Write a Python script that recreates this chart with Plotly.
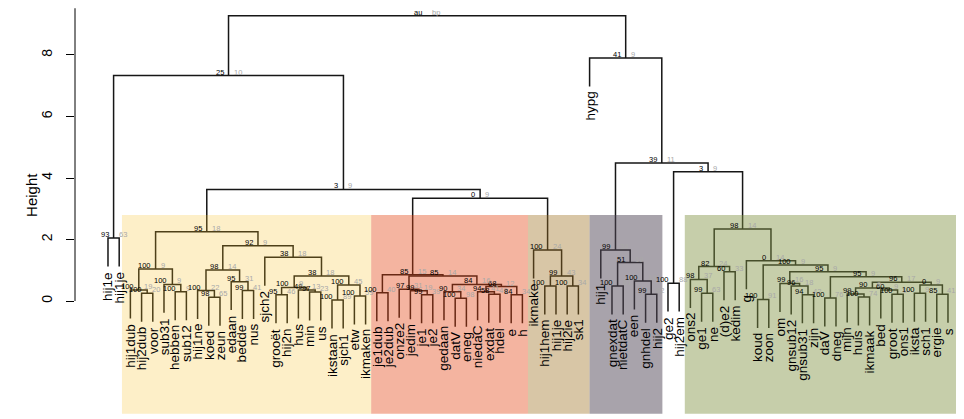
import plotly.graph_objects as go

# ---------------- data ----------------
leaf_labels = ["hij1e", "hij1je", "hij1dub", "hij2dub", "voor", "sub31", "hebben", "sub12",
               "hij1ne", "koed", "zeun", "edaan", "bedde", "nus", "sjch2", "grooët", "hij2n",
               "hus", "min", "us", "ikstaan", "sjch1", "etw", "ikmaken", "je1dub", "je2dub",
               "onze2", "jedim", "je1", "je2", "gedaan", "datV", "eneg", "niedaC", "exdat",
               "hdel", "e", "h", "ikmake", "hij1hem", "hij1je", "hij2ie", "sk1", "hypg", "hij1",
               "gnexdat", "nietdatC", "een", "gnhdel", "hij2", "ge2", "hij2em", "ons2", "ge1",
               "ne", "(d)e2", "kedim", "g", "koud", "zoon", "om", "gnsub12", "gnsub31", "zijn",
               "daV", "dneg", "mijn", "huis", "ikmaak", "bed", "groot", "ons1", "iksta", "sch1",
               "ergie", "s"]

# hclust-style merges: negative = leaf (1-based position), positive = earlier merge row
merge_left = [-4, -3, -7, -6, -1, 2, -10, -9, -13, -12, 8, -16, -19, -18, 12, -21, -23, 16, 15,
              -15, 11, 6, -25, -29, -28, -27, -32, -31, -35, -34, -37, 30, 28, 26, 23, -40, -42,
              36, -39, 35, 22, 5, -46, -49, -48, 43, -45, -51, -54, -53, -56, 50, -59, -63, -62,
              -61, -65, -68, -67, -71, -70, 59, -73, -75, 63, 62, 57, 56, 53, -58, 52, 48, 47,
              -44, 42]
merge_right = [-5, 1, -8, 3, -2, 4, -11, 7, -14, 9, 10, -17, -20, 13, 14, -22, -24, 17, 18, 19,
               20, 21, -26, -30, 24, 25, -33, 27, -36, 29, -38, 31, 32, 33, 34, -41, -43, 37, 38,
               39, 40, 41, -47, -50, 44, 45, 46, -52, -55, 49, -57, 51, -60, -64, 54, 55, -66,
               -69, 58, -72, 60, 61, -74, -76, 64, 65, 66, 67, 68, 69, 70, 71, 72, 73, 74]
merge_height = [0.25, 0.36, 0.30, 0.54, 2.05, 1.04, 0.12, 0.34, 0.34, 0.63, 1.01, 0.20, 0.29,
                0.36, 0.44, 0.03, 0.16, 0.52, 0.81, 1.42, 1.80, 2.25,
                0.27, 0.20, 0.33, 0.38, 0.09, 0.30, 0.22, 0.30, 0.20, 0.47, 0.54, 0.81, 0.85,
                0.49, 0.49, 0.81, 1.66, 3.34, 3.63, 7.33,
                0.49, 0.22, 0.65, 1.25, 1.66, 0.58,
                0.25, 0.70, 0.95, 1.12, 0.05, 0.20, 0.49, 0.57, 0.10, 0.13, 0.23, 0.22, 0.36,
                0.42, 0.25, 0.22, 0.52, 0.61, 0.79, 0.95, 1.17, 1.31, 2.34, 4.20, 4.49, 7.90,
                9.28]
au_values = ["100", "100", "100", "100", "93", "100", "98", "100", "99", "95", "98", "95", "97",
             "49", "100", "100", "100", "100", "38", "38", "92", "95",
             "100", "99", "99", "97", "100", "90", "58", "94", "84", "68", "84", "85", "85",
             "100", "100", "99", "100", "0", "3", "25",
             "100", "99", "100", "51", "99", "100",
             "99", "98", "60", "82", "100", "94", "96", "99", "100", "100", "99", "100", "60",
             "90", "100", "85", "0", "96", "95", "95", "100", "0", "98", "3", "39", "41", "au"]
bp_values = ["20", "19", "9", "9", "63", "9", "65", "22", "41", "31", "14", "46", "23", "13", "9",
             "89", "59", "45", "18", "18", "9", "18",
             "40", "39", "19", "31", "98", "34", "46", "41", "34", "12", "16", "14", "15",
             "", "34", "43", "24", "9", "9", "10",
             "81", "82", "19", "19", "34", "88",
             "63", "37", "33", "24", "91", "42", "18", "16", "76", "74", "", "9", "9", "9", "9",
             "41", "9", "17", "9", "9", "9", "14", "14", "9", "11", "9", "bp"]

y_ticks = [0, 2, 4, 6, 8]

# highlighted groups (1-based leaf positions)
group_from = [3, 25, 39, 44, 53]
group_to = [24, 38, 44, 50, 76]
group_colors = ["rgba(247,191,35,0.25)", "rgba(228,68,18,0.40)", "rgba(157,112,32,0.40)",
                "rgba(81,71,87,0.50)", "rgba(128,146,66,0.45)"]

# ---------------- styles ----------------
FONT = "Liberation Sans, Arial, Helvetica, sans-serif"
pad_left = [0.75, 0.5, 0.5, 0.0, 0.5]
pad_right = [0.5, 0.5, 0.0, 0.5, 1.1]
rect_top, rect_bottom = 2.80, -3.67

# ---------------- geometry from tree ----------------
n = len(leaf_labels)
hang = 0.1 * (max(merge_height) - min(merge_height))
node_x = {}
node_h = {}
leaf_bottom = [None] * n

def pos(ref):
    if ref < 0:
        return float(-ref - 1)
    return node_x[ref]

xs, ys = [], []
for i, (a, b, h) in enumerate(zip(merge_left, merge_right, merge_height), start=1):
    xa, xb = pos(a), pos(b)
    if a < 0:
        ba = h - hang
        leaf_bottom[-a - 1] = ba
    else:
        ba = node_h[a]
    if b < 0:
        bb = h - hang
        leaf_bottom[-b - 1] = bb
    else:
        bb = node_h[b]
    xs += [xa, xa, xb, xb, None]
    ys += [ba, h, h, bb, None]
    node_x[i] = (xa + xb) / 2
    node_h[i] = h

fig = go.Figure()
fig.add_trace(go.Scatter(x=xs, y=ys, mode="lines",
                         line=dict(color="#161616", width=1.5),
                         hoverinfo="skip", showlegend=False))

annotations = []
for k, lab in enumerate(leaf_labels):
    annotations.append(dict(x=k, y=leaf_bottom[k], xref="x", yref="y", text=lab,
                            textangle=-90, xanchor="center", yanchor="top", yshift=-3,
                            showarrow=False, font=dict(family=FONT, size=13.5, color="black")))
for i in range(1, len(merge_height) + 1):
    x, h = node_x[i], node_h[i]
    if au_values[i - 1]:
        annotations.append(dict(x=x, y=h, xref="x", yref="y", text=au_values[i - 1],
                                xanchor="right", yanchor="bottom", xshift=-3, yshift=-3,
                                showarrow=False, font=dict(family=FONT, size=7.5, color="black")))
    if bp_values[i - 1]:
        annotations.append(dict(x=x, y=h, xref="x", yref="y", text=bp_values[i - 1],
                                xanchor="left", yanchor="bottom", xshift=3, yshift=-3,
                                showarrow=False, font=dict(family=FONT, size=7.5, color="#a8a8a8")))
annotations.append(dict(x=-0.0484, y=3.45, xref="paper", yref="y", text="Height",
                        textangle=-90, showarrow=False, xanchor="center", yanchor="middle",
                        font=dict(family=FONT, size=15, color="black")))

shapes = []
for f, t, c, pl, pr in zip(group_from, group_to, group_colors, pad_left, pad_right):
    shapes.append(dict(type="rect", xref="x", yref="y", x0=f - 1 - pl, x1=t - 1 + pr,
                       y0=rect_bottom, y1=rect_top, fillcolor=c, line=dict(width=0),
                       layer="above"))
shapes.append(dict(type="line", xref="paper", yref="y", x0=0, x1=0, y0=0, y1=9.52,
                   line=dict(color="black", width=1)))

# the page body adds an 8px offset, so the figure is sized 956x411 to fill the window
fig.update_layout(
    width=956, height=411,
    margin=dict(l=67, r=0, t=0, b=0, autoexpand=False),
    paper_bgcolor="white", plot_bgcolor="white",
    showlegend=False,
    xaxis=dict(range=[-2.946, 76.43], visible=False, fixedrange=True, automargin=False),
    yaxis=dict(range=[-3.837, 9.528], tickmode="array", tickvals=y_ticks,
               ticktext=[str(v) for v in y_ticks], ticks="outside", ticklen=8,
               tickcolor="black", tickwidth=1, tickangle=-90, ticklabelstandoff=8,
               tickfont=dict(family=FONT, size=14, color="black"), automargin=False,
               showgrid=False, zeroline=False, showline=False, fixedrange=True),
    annotations=annotations,
    shapes=shapes,
)

fig.write_html("out.html", config={"displayModeBar": False})
